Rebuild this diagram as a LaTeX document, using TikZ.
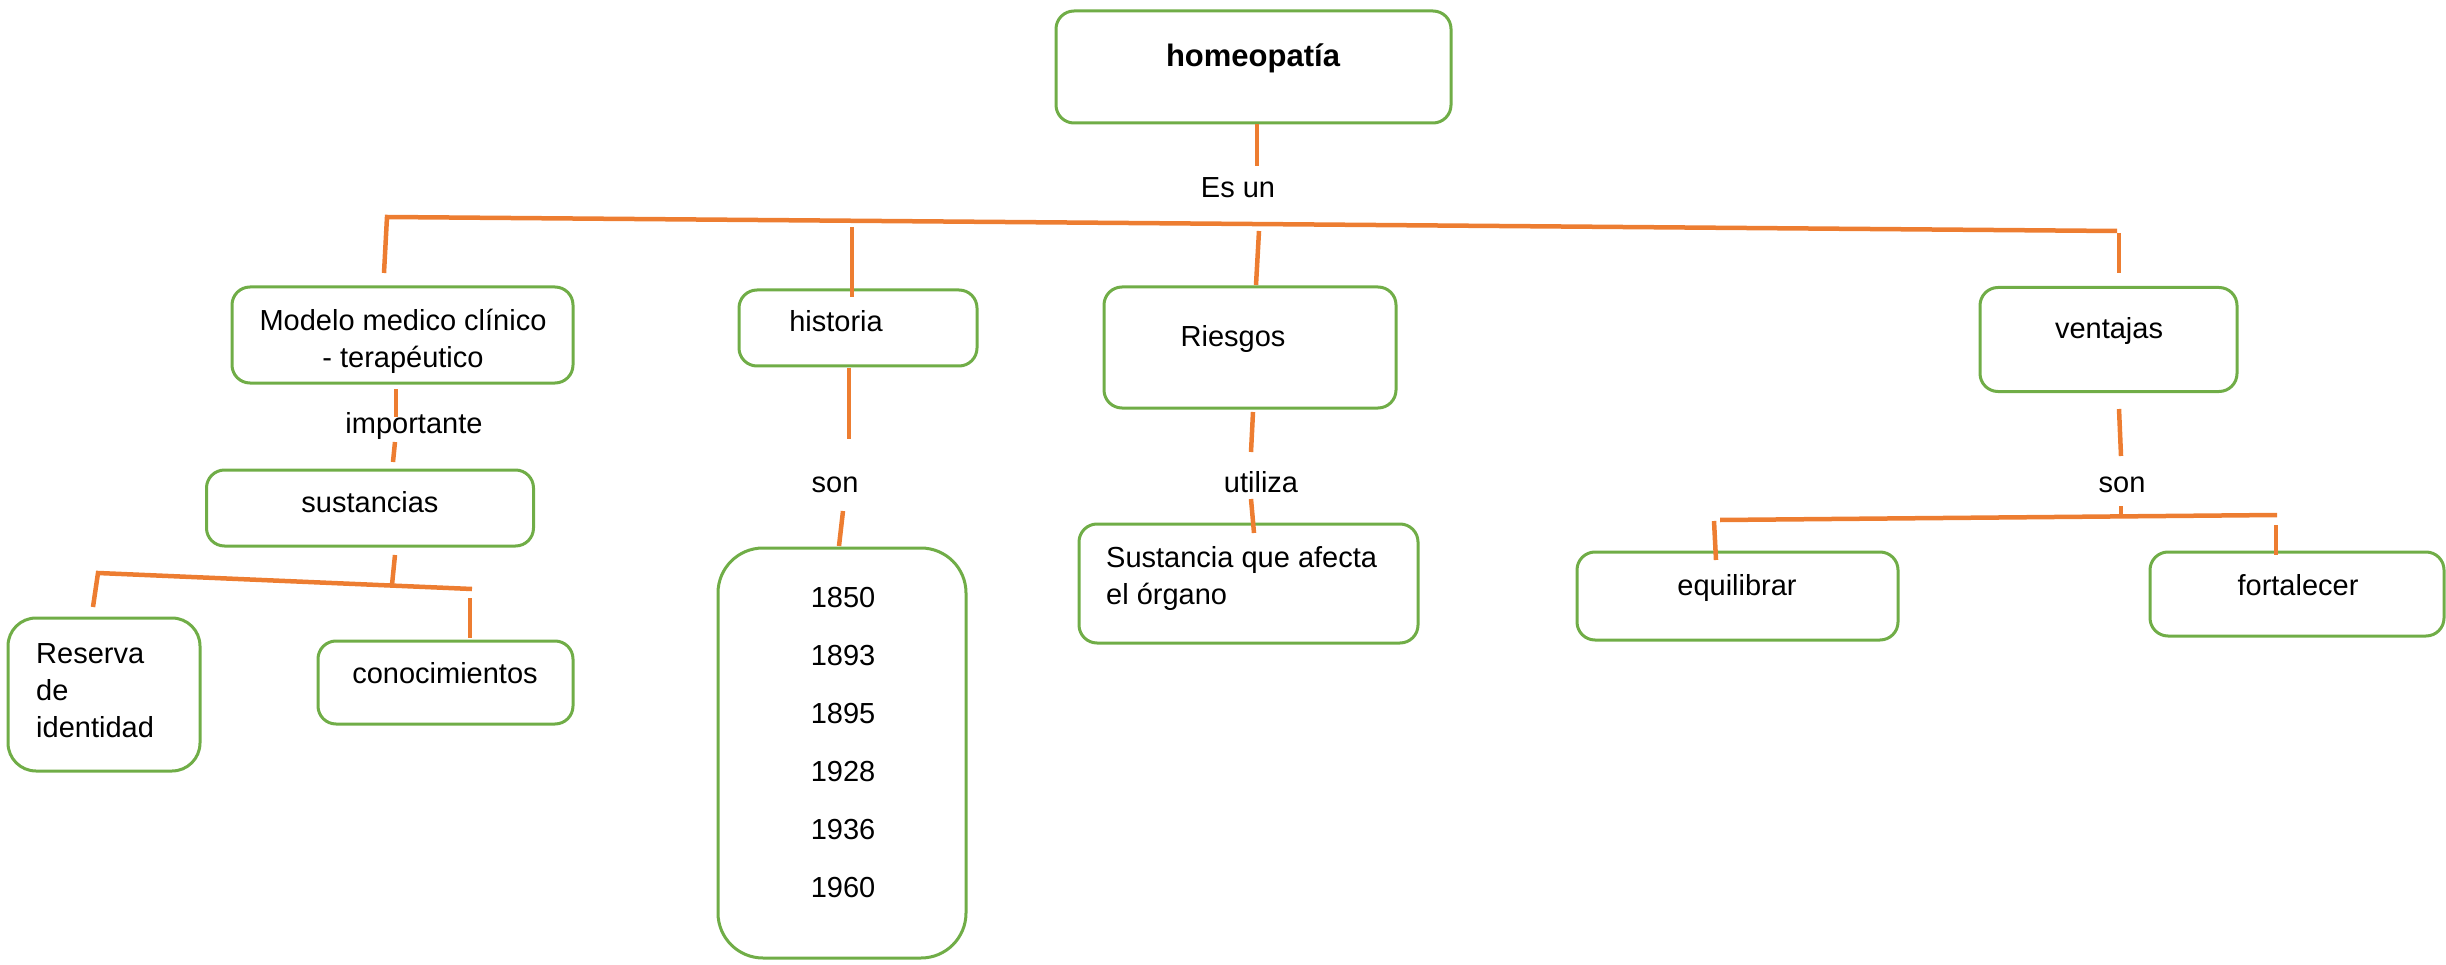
\documentclass[tikz,border=0pt]{standalone}
\usepackage{fontspec}
\setmainfont{Liberation Sans}
\definecolor{boxgreen}{HTML}{70AD47}
\definecolor{lineorange}{HTML}{ED7D31}
\begin{document}
\begin{tikzpicture}[x=1pt,y=-1pt,
  box/.style={draw=boxgreen, line width=3pt, rounded corners=18pt, inner sep=0pt},
  txt/.style={inner sep=0pt, anchor=base, text=black, font=\fontsize{29}{37}\selectfont},
  conn/.style={draw=lineorange, line width=4.5pt}]
\useasboundingbox (0,0) rectangle (2446,965);

% boxes
\node[box, minimum width=395pt, minimum height=112pt] (homeo) at (1253.5,67) {};
\node[box, minimum width=341pt, minimum height=96pt] (modelo) at (402.5,335) {};
\node[box, minimum width=238pt, minimum height=76pt] (hist) at (858,328) {};
\node[box, minimum width=292pt, minimum height=121pt] (ries) at (1250,347.5) {};
\node[box, minimum width=257pt, minimum height=104pt] (vent) at (2108.5,339.5) {};
\node[box, minimum width=327pt, minimum height=76pt] (sust) at (370,508) {};
\node[box, minimum width=192pt, minimum height=153pt, rounded corners=28pt] (reserva) at (104,694.5) {};
\node[box, minimum width=255pt, minimum height=83pt] (conoc) at (445.5,682.5) {};
\node[box, minimum width=248pt, minimum height=410pt, rounded corners=45pt] (years) at (842,753) {};
\node[box, minimum width=339pt, minimum height=119pt] (sustorg) at (1248.5,583.5) {};
\node[box, minimum width=321pt, minimum height=88pt] (equil) at (1737.5,596) {};
\node[box, minimum width=294pt, minimum height=84pt] (fort) at (2297,594) {};

% texts
\node[txt, font=\fontsize{31}{37}\selectfont\bfseries] (homeoT) at (1253,67) {homeopatía};
\node[txt] (esun) at (1238,198) {Es un};
\node[txt, align=center] (modeloT) at (403,367) {Modelo medico clínico\\- terapéutico};
\node[txt] (histT) at (836,332) {historia};
\node[txt] (riesT) at (1233,347) {Riesgos};
\node[txt] (ventT) at (2109,338) {ventajas};
\node[txt] (impT) at (414,433) {importante};
\node[txt] (sustT) at (370,512) {sustancias};
\node[txt] (son1) at (835,492) {son};
\node[txt] (utT) at (1261,492) {utiliza};
\node[txt] (son2) at (2122,492) {son};
\node[txt, align=left, anchor=base west] (resT) at (36,737) {Reserva\\de\\identidad};
\node[txt] (conocT) at (445,683) {conocimientos};
\node[txt, align=left, anchor=base west] (sustorgT) at (1106,604) {Sustancia que afecta\\el órgano};
\node[txt] (y1) at (843,607) {1850};
\node[txt] (y2) at (843,665) {1893};
\node[txt] (y3) at (843,723) {1895};
\node[txt] (y4) at (843,781) {1928};
\node[txt] (y5) at (843,839) {1936};
\node[txt] (y6) at (843,897) {1960};
\node[txt] (equilT) at (1737,595) {equilibrar};
\node[txt] (fortT) at (2298,595) {fortalecer};

% connector points
\coordinate (h0) at (1257,124);
\coordinate (h1) at (1257,166);
\coordinate (bL) at (387,217);
\coordinate (bR) at (2117,231);
\coordinate (dM) at (384,273);
\coordinate (dH0) at (852,227);
\coordinate (dH1) at (852,297);
\coordinate (dR0) at (1259,231);
\coordinate (dR1) at (1256,285);
\coordinate (dV0) at (2119,233);
\coordinate (dV1) at (2119,273);
\coordinate (m0) at (396,389);
\coordinate (m1) at (396,417);
\coordinate (m2) at (395,442);
\coordinate (m3) at (393,462);
\coordinate (s0) at (395,555);
\coordinate (s1) at (392,585);
\coordinate (sbL) at (98,573);
\coordinate (sbR) at (472,589);
\coordinate (rd) at (93,607);
\coordinate (cd0) at (470,598);
\coordinate (cd1) at (470,638);
\coordinate (hs0) at (849,368);
\coordinate (hs1) at (849,439);
\coordinate (hs2) at (843,511);
\coordinate (hs3) at (839,546);
\coordinate (ru0) at (1253,412);
\coordinate (ru1) at (1251,452);
\coordinate (ru2) at (1251,499);
\coordinate (ru3) at (1254,533);
\coordinate (vs0) at (2119,409);
\coordinate (vs1) at (2121,456);
\coordinate (vs2) at (2121,506);
\coordinate (vs3) at (2121,517);
\coordinate (vbL) at (1720,520);
\coordinate (vbR) at (2277,515);
\coordinate (ve0) at (1714,521);
\coordinate (ve1) at (1716,560);
\coordinate (vf0) at (2276,525);
\coordinate (vf1) at (2276,555);

% connectors
\draw[conn] (h0) -- (h1);
\draw[conn] (dM) -- (bL) -- (bR);
\draw[conn] (dH0) -- (dH1);
\draw[conn] (dR0) -- (dR1);
\draw[conn] (dV0) -- (dV1);
\draw[conn] (m0) -- (m1);
\draw[conn] (m2) -- (m3);
\draw[conn] (s0) -- (s1);
\draw[conn] (rd) -- (sbL) -- (sbR);
\draw[conn] (cd0) -- (cd1);
\draw[conn] (hs0) -- (hs1);
\draw[conn] (hs2) -- (hs3);
\draw[conn] (ru0) -- (ru1);
\draw[conn] (ru2) -- (ru3);
\draw[conn] (vs0) -- (vs1);
\draw[conn] (vs2) -- (vs3);
\draw[conn] (vbL) -- (vbR);
\draw[conn] (ve0) -- (ve1);
\draw[conn] (vf0) -- (vf1);
\end{tikzpicture}
\end{document}
